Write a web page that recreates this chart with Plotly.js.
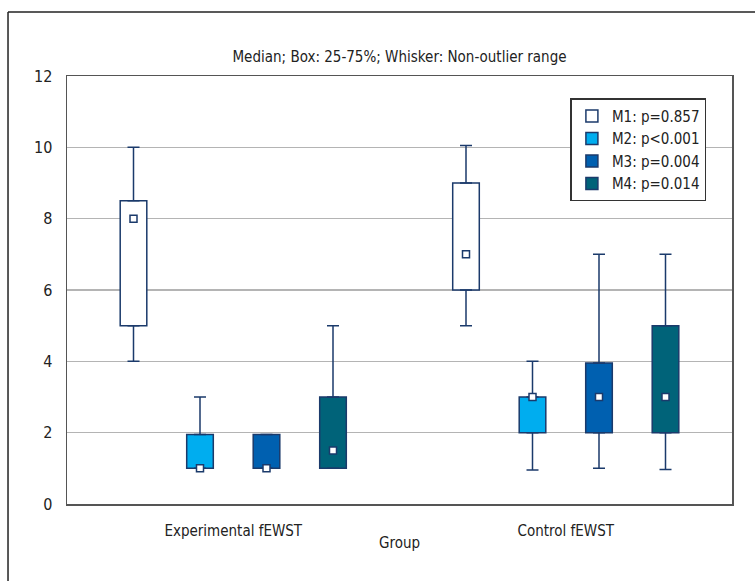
<!DOCTYPE html>
<html>
<head>
<meta charset="utf-8">
<script src="https://cdn.plot.ly/plotly-3.0.1.min.js"></script>
<style>
  html, body { margin: 0; padding: 0; background: #fff; }
  #chart { width: 755px; height: 581px; }
</style>
</head>
<body>
<div id="chart"></div>
<script>
// ---- data ----
var groups = ["Experimental fEWST", "Control fEWST"];
var series = ["M1: p=0.857", "M2: p<0.001", "M3: p=0.004", "M4: p=0.014"];
// per series, [Experimental, Control]
var lowerWhisker = [[4.0, 5.0], [1.0, 0.95], [1.0, 1.0], [1.0, 0.97]];
var q1Values     = [[5.0, 6.0], [1.0, 2.0], [1.0, 2.0], [1.0, 2.0]];
var medianValues = [[8.0, 7.0], [1.0, 3.0], [1.0, 3.0], [1.5, 3.0]];
var q3Values     = [[8.5, 9.0], [1.95, 3.0], [1.95, 3.95], [3.0, 5.0]];
var upperWhisker = [[10.0, 10.05], [3.0, 4.0], [1.95, 7.0], [5.0, 7.0]];
var yTicks = [0, 2, 4, 6, 8, 10, 12];

// ---- styles ----
var fills = ["#ffffff", "#00adef", "#0060b0", "#006379"];
var edge = "#1b3a6b";
var FONT = '"DejaVu Sans Condensed", "Liberation Sans Narrow", "Arial Narrow", sans-serif';
var slotsPerGroup = series.length + 1;

function xPos(s) {
  return groups.map(function (g, gi) { return gi * slotsPerGroup + s; });
}

var traces = [];
series.forEach(function (name, s) {
  var xs = xPos(s);
  var q1 = q1Values[s], q3 = q3Values[s];
  traces.push({
    type: "bar",
    name: name,
    x: xs,
    base: q1,
    y: q3.map(function (v, i) { return v - q1[i]; }),
    width: 0.4,
    marker: { color: fills[s], line: { color: edge, width: 1.5 } },
    showlegend: true,
    hoverinfo: "skip"
  });
});
series.forEach(function (name, s) {
  var xs = xPos(s);
  traces.push({
    type: "scatter", mode: "markers", x: xs, y: q3Values[s],
    marker: { size: 1, color: "rgba(0,0,0,0)" },
    error_y: { type: "data", symmetric: false,
      array: upperWhisker[s].map(function (v, i) { return v - q3Values[s][i]; }),
      arrayminus: q3Values[s].map(function () { return 0; }),
      color: edge, thickness: 1.5, width: 6 },
    showlegend: false, hoverinfo: "skip"
  });
  traces.push({
    type: "scatter", mode: "markers", x: xs, y: q1Values[s],
    marker: { size: 1, color: "rgba(0,0,0,0)" },
    error_y: { type: "data", symmetric: false,
      array: q1Values[s].map(function () { return 0; }),
      arrayminus: q1Values[s].map(function (v, i) { return v - lowerWhisker[s][i]; }),
      color: edge, thickness: 1.5, width: 6 },
    showlegend: false, hoverinfo: "skip"
  });
});
series.forEach(function (name, s) {
  traces.push({
    type: "scatter", mode: "markers", x: xPos(s), y: medianValues[s],
    marker: { symbol: "square", size: 7, color: "#ffffff", line: { color: edge, width: 1.5 } },
    showlegend: false, hoverinfo: "skip"
  });
});

var groupCenters = groups.map(function (g, gi) { return gi * slotsPerGroup + (series.length - 1) / 2; });

var layout = {
  width: 755, height: 581,
  margin: { l: 67, r: 23, t: 76, b: 77 },
  paper_bgcolor: "#ffffff", plot_bgcolor: "#ffffff",
  font: { family: FONT, size: 15, color: "#222" },
  title: { text: "Median; Box: 25-75%; Whisker: Non-outlier range",
    font: { family: FONT, size: 15, color: "#222" },
    x: 0.5, xref: "paper", xanchor: "center", y: 1 - 57 / 581, yanchor: "middle" },
  showlegend: true,
  barmode: "overlay",
  legend: { x: 0.757, xanchor: "left", y: 0.948, yanchor: "top",
    bgcolor: "#ffffff", bordercolor: "#333", borderwidth: 1.5,
    font: { family: FONT, size: 15, color: "#222" },
    traceorder: "normal", tracegroupgap: 0, itemwidth: 30 },
  xaxis: {
    range: [-1, 9], tickvals: groupCenters, ticktext: groups,
    showgrid: false, zeroline: false, ticks: "",
    showline: true, mirror: true, linecolor: "#555", linewidth: 1.5,
    ticklabelstandoff: 12,
    tickfont: { family: FONT, size: 15, color: "#222" },
    fixedrange: true
  },
  yaxis: {
    range: [0, 12], tickvals: yTicks,
    showgrid: true, gridcolor: "#b4b4b4", gridwidth: 1.5, zeroline: false, ticks: "",
    showline: true, mirror: true, linecolor: "#555", linewidth: 1.5,
    ticklabelstandoff: 10,
    tickfont: { family: FONT, size: 16, color: "#222" },
    fixedrange: true
  },
  annotations: [{
    text: "Group", xref: "paper", yref: "paper", x: 0.5, y: (504 - 543) / 428,
    xanchor: "center", yanchor: "middle", showarrow: false,
    font: { family: FONT, size: 15, color: "#222" }
  }],
  shapes: [
    { type: "line", xref: "paper", yref: "paper", x0: -0.0887, x1: 1.2, y0: 1.1495, y1: 1.1495,
      line: { color: "#222", width: 1.5 } },
    { type: "line", xref: "paper", yref: "paper", x0: -0.0887, x1: -0.0887, y0: 1.1495, y1: -0.3,
      line: { color: "#222", width: 1.5 } }
  ]
};

Plotly.newPlot("chart", traces, layout, { displayModeBar: false, staticPlot: true });
</script>
</body>
</html>
